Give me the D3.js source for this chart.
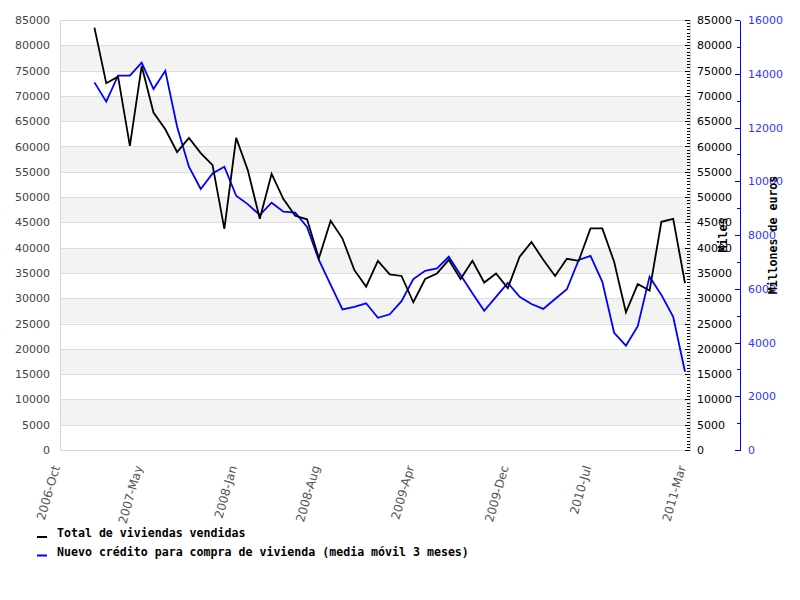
<!DOCTYPE html>
<html>
<head>
<meta charset="utf-8">
<script src="https://cdn.jsdelivr.net/npm/d3@7/dist/d3.min.js"></script>
<style>
  body{margin:0;background:#fff;}
  svg{display:block;}
  .tick text{font-family:"DejaVu Sans",sans-serif;font-size:11px;}
  .tick line, .domain{shape-rendering:crispEdges;}
  .mono{font-family:"DejaVu Sans Mono",monospace;font-weight:bold;font-size:11.6px;}
</style>
</head>
<body>
<svg id="chart" width="800" height="600"></svg>
<script>

// months Jan 2007 .. Mar 2011
var months = ["2007-01","2007-02","2007-03","2007-04","2007-05","2007-06","2007-07","2007-08","2007-09","2007-10","2007-11","2007-12",
	"2008-01","2008-02","2008-03","2008-04","2008-05","2008-06","2008-07","2008-08","2008-09","2008-10","2008-11","2008-12",
	"2009-01","2009-02","2009-03","2009-04","2009-05","2009-06","2009-07","2009-08","2009-09","2009-10","2009-11","2009-12",
	"2010-01","2010-02","2010-03","2010-04","2010-05","2010-06","2010-07","2010-08","2010-09","2010-10","2010-11","2010-12",
	"2011-01","2011-02","2011-03"];

// Total de viviendas vendidas (left axis, miles)
var viviendas = [83500,72500,73800,60100,75900,66700,63400,58900,61700,58700,56300,43700,
	61700,55200,45700,54600,49600,46300,45600,37900,45300,41800,35600,32300,
	37400,34700,34400,29200,33800,34900,37600,33800,37400,33100,34900,32000,
	38200,41100,37600,34400,37800,37400,43800,43800,37200,27200,32800,31500,
	45100,45700,33000];

// Nuevo crédito para compra de vivienda (right axis, millones de euros)
var credito = [13680,12960,13930,13930,14410,13430,14110,12030,10540,9710,10290,10540,
	9460,9140,8740,9200,8870,8830,8300,7070,6140,5230,5330,5460,
	4920,5050,5540,6360,6670,6760,7190,6510,5830,5180,5700,6220,
	5700,5430,5250,5620,5980,7070,7220,6260,4360,3880,4610,6450,
	5770,4960,2910];

var xTickLabels = ["2006-Oct","2007-May","2008-Jan","2008-Aug","2009-Apr","2009-Dec","2010-Jul","2011-Mar"];

var seriesNames = ["Total de viviendas vendidas","Nuevo crédito para compra de vivienda (media móvil 3 meses)"];
var seriesColors = ["#000000","#0000ff"];

var leftTitle = "Miles";
var rightTitle = "Millones de euros";

var svg = d3.select("#chart");
var plot = {left:60, right:690, top:20, bottom:450};

var parseMonth = d3.utcParse("%Y-%m");
var parseTick = d3.utcParse("%Y-%b");
var start = parseTick(xTickLabels[0]);
function monthIndex(date){ return d3.utcMonth.count(start, date); }

var x = d3.scaleLinear()
	.domain([0, monthIndex(parseTick(xTickLabels[xTickLabels.length-1]))])
	.range([59, 685]);
var yL = d3.scaleLinear().domain([0,85000]).range([plot.bottom, plot.top]);
var yR = d3.scaleLinear().domain([0,16000]).range([plot.bottom, plot.top]);

// alternating bands + grid
var bandVals = d3.range(0, 85000, 5000);
svg.append("g").selectAll("rect").data(bandVals).enter()
	.append("rect")
	.attr("x", plot.left)
	.attr("width", plot.right - plot.left)
	.attr("y", function(d){ return yL(d+5000); })
	.attr("height", function(d){ return yL(d) - yL(d+5000); })
	.attr("fill", function(d){ return (d/5000) % 2 == 1 ? "#f3f3f3" : "#ffffff"; });

svg.append("g").selectAll("line").data(d3.range(0, 85001, 5000)).enter()
	.append("line")
	.attr("x1", plot.left).attr("x2", plot.right)
	.attr("y1", function(d){ return Math.round(yL(d)) + 0.5; })
	.attr("y2", function(d){ return Math.round(yL(d)) + 0.5; })
	.attr("stroke", "#dddddd");

svg.append("rect")
	.attr("x", plot.left + 0.5).attr("y", plot.top + 0.5)
	.attr("width", plot.right - plot.left).attr("height", plot.bottom - plot.top)
	.attr("fill", "none").attr("stroke", "#d6d6d6");

// left axis (labels only)
var leftAxis = svg.append("g")
	.attr("transform", "translate(" + (plot.left - 10) + ",0)")
	.call(d3.axisLeft(yL).tickValues(d3.range(0, 85001, 5000)).tickSize(0).tickPadding(0).tickFormat(d3.format("d")));
leftAxis.select(".domain").remove();
leftAxis.selectAll("text").attr("fill", "#444444");

// right black axis, minor + major ticks
var minorAxis = svg.append("g")
	.attr("transform", "translate(" + plot.right + ",0)")
	.call(d3.axisRight(yL).tickValues(d3.range(0, 85001, 625)).tickSize(-3).tickFormat(""));
minorAxis.select(".domain").remove();
minorAxis.selectAll(".tick").attr("transform", function(d){ return "translate(0," + (Math.round(yL(d)) + 0.5) + ")"; });

var rightAxis = svg.append("g")
	.attr("transform", "translate(" + plot.right + ",0)")
	.call(d3.axisRight(yL).tickValues(d3.range(0, 85001, 5000)).tickSizeInner(-5).tickSizeOuter(0).tickPadding(7).tickFormat(d3.format("d")));
rightAxis.select(".domain").remove();
rightAxis.selectAll("text").attr("fill", "#000000");

// blue axis
var blueAxis = svg.append("g")
	.attr("transform", "translate(740,0)")
	.call(d3.axisRight(yR).tickValues(d3.range(0, 16001, 1000)).tickSizeInner(-5).tickSizeOuter(0).tickPadding(8)
		.tickFormat(function(d){ return d % 2000 == 0 ? d : ""; }));
blueAxis.select(".domain").attr("stroke", "#0000ff");
blueAxis.selectAll(".tick line").attr("stroke", "#0000ff")
	.attr("x2", function(d){ return d % 2000 == 0 ? -5 : -3; });
blueAxis.selectAll("text").attr("fill", "#3333ff");

// x tick labels
svg.append("g").selectAll("text").data(xTickLabels).enter()
	.append("text")
	.attr("transform", function(d){ return "translate(" + (x(monthIndex(parseTick(d))) + 1) + ",467) rotate(-74)"; })
	.attr("text-anchor", "end")
	.attr("fill", "#555555")
	.style("font-family", "DejaVu Sans")
	.style("font-size", "12px")
	.text(function(d){ return d; });

// lines
var lineL = d3.line()
	.x(function(d,i){ return x(monthIndex(parseMonth(months[i]))); })
	.y(function(d){ return yL(d); });
var lineR = d3.line()
	.x(function(d,i){ return x(monthIndex(parseMonth(months[i]))); })
	.y(function(d){ return yR(d); });

svg.append("path").datum(credito)
	.attr("d", lineR)
	.attr("fill", "none").attr("stroke", seriesColors[1]).attr("stroke-width", 1.8);
svg.append("path").datum(viviendas)
	.attr("d", lineL)
	.attr("fill", "none").attr("stroke", seriesColors[0]).attr("stroke-width", 1.8);

// axis titles
svg.append("text").attr("class", "mono")
	.attr("transform", "translate(727,235) rotate(-90)")
	.attr("text-anchor", "middle")
	.attr("fill", "#000")
	.text(leftTitle);
svg.append("text").attr("class", "mono")
	.attr("transform", "translate(777,235) rotate(-90)")
	.attr("text-anchor", "middle")
	.attr("fill", "#000")
	.text(rightTitle);

// legend
var legend = svg.append("g").selectAll("g").data(seriesNames).enter()
	.append("g")
	.attr("transform", function(d,i){ return "translate(0," + (537 + i*18.5) + ")"; });
legend.append("line")
	.attr("x1", 37).attr("x2", 47).attr("y1", 0).attr("y2", 0)
	.attr("stroke", function(d,i){ return seriesColors[i]; })
	.attr("stroke-width", 2);
legend.append("text").attr("class", "mono")
	.attr("x", 57).attr("y", 0)
	.attr("fill", "#000")
	.text(function(d){ return d; });

</script>
</body>
</html>
